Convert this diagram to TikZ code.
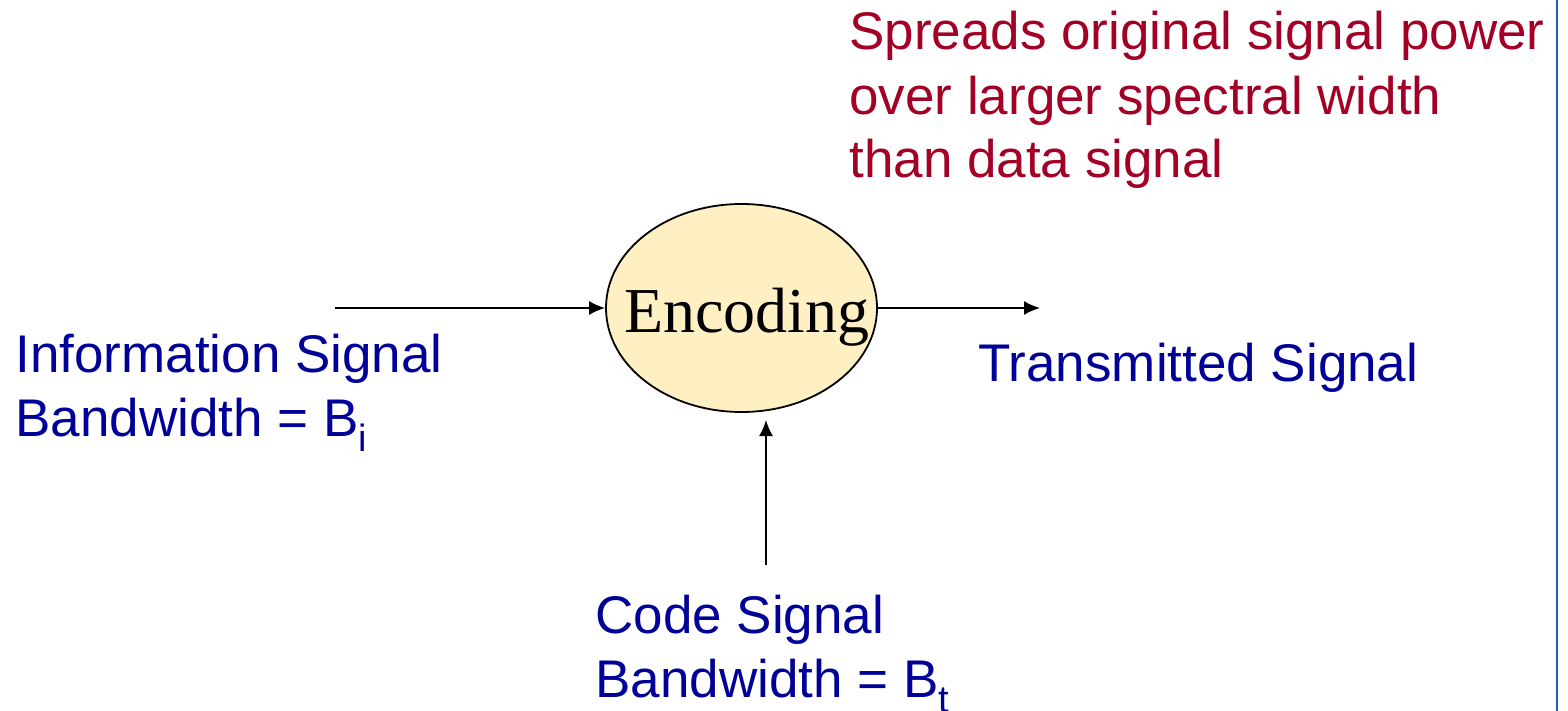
\documentclass[tikz,border=0pt]{standalone}
\usepackage{fontspec}
\setmainfont{Liberation Sans}
\newfontfamily\serifface{Liberation Serif}
\usetikzlibrary{shapes.geometric,arrows.meta}
\definecolor{labelblue}{RGB}{0,0,153}
\definecolor{notered}{RGB}{163,0,38}
\definecolor{encfill}{RGB}{255,240,196}
\definecolor{edgeblue}{RGB}{35,90,180}
\newcommand{\lowsub}[1]{\raisebox{-0.3em}{\fontsize{19}{19}\selectfont #1}}
\begin{document}
\begin{tikzpicture}[x=0.5pt,y=-0.5pt,
  lbl/.style={inner sep=0pt,anchor=base west,align=left,
    font=\fontsize{26.5}{32}\selectfont},
  bluelbl/.style={lbl,text=labelblue},
  redlbl/.style={lbl,text=notered},
  encbox/.style={ellipse,draw=black,line width=0.9pt,fill=encfill,
    minimum width=135.5pt,minimum height=104pt,inner sep=0pt},
  flow/.style={line width=0.9pt,-{Latex[length=8pt,width=7pt]}}]
  \useasboundingbox (0,0) rectangle (1568,711);
  \fill[white] (0,0) rectangle (1568,711);
  % frame line on the right
  \draw[edgeblue,line width=1.3pt] (1557,0) -- (1557,711);

  % central block
  \node[encbox] (enc) at (741.5,308) {};
  \node[inner sep=0pt,anchor=base,font=\serifface\fontsize{32}{32}\selectfont]
    (enctxt) at (747,332) {Encoding};

  % connector end points
  \coordinate (inStart) at (335,308);
  \coordinate (outEnd) at (1040,308);
  \coordinate (codeStart) at (766,565);
  \coordinate (codeEnd) at (766,420);

  \draw[flow] (inStart) -- (enc.west);
  \draw[flow] (enc.east) -- (outEnd);
  \draw[flow] (codeStart) -- (codeEnd);

  % labels (anchored at the baseline of their last line)
  \node[bluelbl] (info) at (15,436) {Information Signal\\Bandwidth = B\lowsub{i}};
  \node[bluelbl] (trans) at (978,381) {Transmitted Signal};
  \node[bluelbl] (code) at (595,697) {Code Signal\\Bandwidth = B\lowsub{t}};
  \node[redlbl] (note) at (849,178) {Spreads original signal power\\over larger spectral width\\than data signal};
\end{tikzpicture}
\end{document}
